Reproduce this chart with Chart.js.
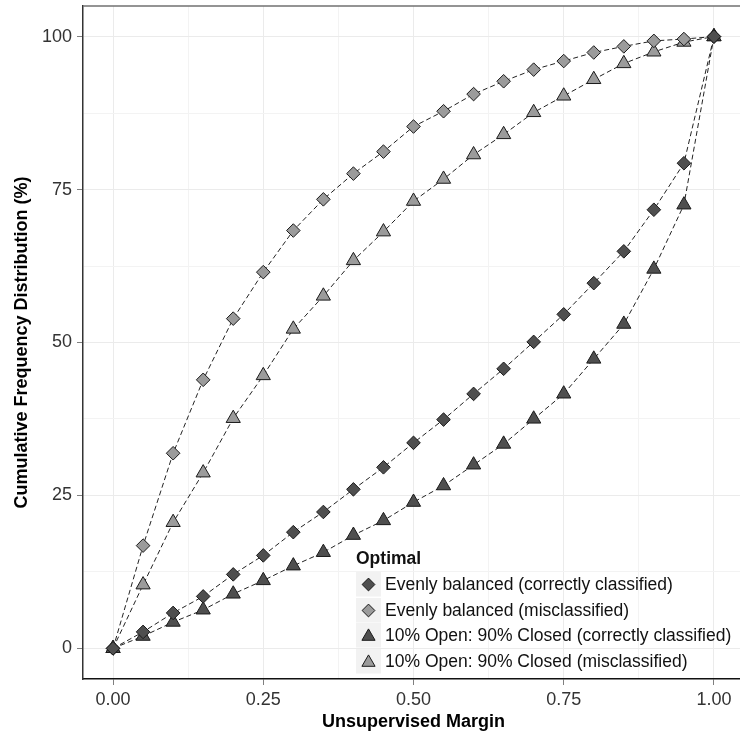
<!DOCTYPE html>
<html>
<head>
<meta charset="utf-8">
<title>Cumulative frequency distribution by unsupervised margin</title>
<script src="https://cdn.jsdelivr.net/npm/chart.js@4.4.1/dist/chart.umd.min.js"></script>
<style>
    html, body { margin: 0; padding: 0; background: #fff; overflow: hidden; }
    #wrap { position: relative; width: 740px; height: 742px; overflow: hidden; }
    #chart { position: absolute; left: 0; top: 0; }
    #legend {
        position: absolute; left: 356px; top: 546px;
        font-family: 'Liberation Sans', Arial, sans-serif; color: #111;
    }
    #legend .title { font-weight: bold; font-size: 17.5px; line-height: 24px; height: 25.7px; }
    #legend .row { display: flex; align-items: center; height: 25.7px; }
    #legend svg { display: block; margin-right: 4px; }
    #legend span { font-size: 17.5px; white-space: nowrap; }
</style>
</head>
<body>
<div id="wrap">
    <canvas id="chart" width="750" height="742"></canvas>
    <div id="legend"></div>
</div>
<script>
// Unsupervised margin (x) and cumulative frequency (%) for each group
const margins = [0, 0.05, 0.10, 0.15, 0.20, 0.25, 0.30, 0.35, 0.40, 0.45, 0.50,
                 0.55, 0.60, 0.65, 0.70, 0.75, 0.80, 0.85, 0.90, 0.95, 1.00];
const evenCorrect = [0, 2.7, 5.8, 8.5, 12.1, 15.2, 19.0, 22.3, 26.0, 29.6, 33.6,
                     37.4, 41.6, 45.7, 50.1, 54.6, 59.7, 64.9, 71.7, 79.3, 100];
const evenMisclassified = [0, 16.8, 31.9, 43.9, 53.9, 61.5, 68.3, 73.4, 77.6, 81.2, 85.3,
                           87.8, 90.6, 92.7, 94.6, 96.0, 97.4, 98.4, 99.3, 99.6, 100];
const openCorrect = [0, 2.0, 4.3, 6.3, 8.9, 11.1, 13.5, 15.7, 18.5, 20.9, 23.9,
                     26.6, 30.0, 33.4, 37.5, 41.6, 47.3, 53.0, 62.0, 72.5, 100];
const openMisclassified = [0, 10.4, 20.6, 28.7, 37.6, 44.6, 52.2, 57.6, 63.4, 68.1, 73.1,
                           76.7, 80.7, 84.0, 87.6, 90.3, 93.0, 95.6, 97.5, 99.1, 100];

const seriesNames = [
    'Evenly balanced (correctly classified)',
    'Evenly balanced (misclassified)',
    '10% Open: 90% Closed (correctly classified)',
    '10% Open: 90% Closed (misclassified)'
];
const seriesValues = [evenCorrect, evenMisclassified, openCorrect, openMisclassified];
const seriesShapes = ['rectRot', 'rectRot', 'triangle', 'triangle'];
const seriesFills = ['#4f4f4f', '#9b9b9b', '#4f4f4f', '#9b9b9b'];

// Axis ticks
const xTickValues = [0, 0.25, 0.5, 0.75, 1];
const xTickLabels = ['0.00', '0.25', '0.50', '0.75', '1.00'];
const xMinorValues = [0.125, 0.375, 0.625, 0.875];
const yTickValues = [0, 25, 50, 75, 100];
const yTickLabels = ['0', '25', '50', '75', '100'];
const yMinorValues = [12.5, 37.5, 62.5, 87.5];

const FONT = "'Liberation Sans', Arial, sans-serif";
Chart.defaults.font.family = FONT;

const markerSize = { rectRot: 6.8, triangle: 8.2 };

function toPoints(values) {
    return margins.map((x, i) => ({ x: x, y: values[i] }));
}

// Dashed lines go underneath, markers on top
const lineSets = seriesValues.map((values, i) => ({
    label: seriesNames[i] + ' line',
    data: toPoints(values),
    showLine: true,
    borderColor: '#222',
    borderWidth: 1,
    borderDash: [5, 3],
    pointRadius: 0,
    order: 2
}));

const pointSets = seriesValues.map((values, i) => ({
    label: seriesNames[i],
    data: toPoints(values),
    showLine: false,
    pointStyle: seriesShapes[i],
    pointRadius: markerSize[seriesShapes[i]],
    backgroundColor: seriesFills[i],
    borderColor: '#1a1a1a',
    borderWidth: 1,
    order: 1
}));

function buildTicks(major, minor) {
    return (axis) => {
        axis.ticks = major.concat(minor).sort((a, b) => a - b).map(v => ({ value: v }));
    };
}

function isMajor(ctx, major) {
    return ctx.tick && major.includes(ctx.tick.value);
}

// Grey top edge of the panel
const panelBorder = {
    id: 'panelBorder',
    afterDraw(chart) {
        const { ctx, chartArea } = chart;
        ctx.save();
        ctx.strokeStyle = '#707070';
        ctx.lineWidth = 1.5;
        ctx.beginPath();
        ctx.moveTo(chartArea.left, chartArea.top);
        ctx.lineTo(chartArea.right, chartArea.top);
        ctx.stroke();
        ctx.restore();
    }
};

new Chart(document.getElementById('chart'), {
    type: 'scatter',
    data: { datasets: lineSets.concat(pointSets) },
    options: {
        responsive: false,
        animation: false,
        layout: { autoPadding: false, padding: { top: 6, right: 6, left: 0, bottom: 0 } },
        plugins: { legend: { display: false }, tooltip: { enabled: false } },
        scales: {
            x: {
                type: 'linear',
                min: -0.05,
                max: 1.05,
                afterBuildTicks: buildTicks(xTickValues, xMinorValues),
                afterFit: (axis) => {
                    axis.height = 63;
                    axis.paddingLeft = 0;
                    axis.paddingRight = 0;
                },
                ticks: {
                    autoSkip: false,
                    maxRotation: 0,
                    padding: 4,
                    color: '#333',
                    font: { size: 18 },
                    callback: (v) => {
                        const i = xTickValues.indexOf(v);
                        return i >= 0 ? xTickLabels[i] : '';
                    }
                },
                grid: {
                    color: (ctx) => isMajor(ctx, xTickValues) ? '#ebebeb' : '#f3f3f3',
                    tickColor: (ctx) => isMajor(ctx, xTickValues) ? '#7f7f7f' : 'rgba(0,0,0,0)',
                    tickLength: 6
                },
                border: { color: '#111', width: 1.5 },
                title: {
                    display: true,
                    text: 'Unsupervised Margin',
                    color: '#000',
                    font: { size: 18, weight: 'bold' },
                    padding: { top: 0, bottom: 9 }
                }
            },
            y: {
                type: 'linear',
                min: -5,
                max: 105,
                afterBuildTicks: buildTicks(yTickValues, yMinorValues),
                afterFit: (axis) => {
                    axis.width = 83;
                    axis.paddingTop = 0;
                    axis.paddingBottom = 0;
                },
                ticks: {
                    autoSkip: false,
                    padding: 5,
                    color: '#333',
                    font: { size: 18 },
                    callback: (v) => {
                        const i = yTickValues.indexOf(v);
                        return i >= 0 ? yTickLabels[i] : '';
                    }
                },
                grid: {
                    color: (ctx) => isMajor(ctx, yTickValues) ? '#ebebeb' : '#f3f3f3',
                    tickColor: (ctx) => isMajor(ctx, yTickValues) ? '#7f7f7f' : 'rgba(0,0,0,0)',
                    tickLength: 6
                },
                border: { color: '#333', width: 1.5 },
                title: {
                    display: true,
                    text: 'Cumulative Frequency Distribution (%)',
                    color: '#000',
                    font: { size: 18, weight: 'bold' },
                    padding: { top: 11, bottom: 0 }
                }
            }
        }
    },
    plugins: [panelBorder]
});

// Legend inside the panel, keys on light grey squares
function keySvg(shape, fill) {
    const c = 12.5;
    let mark;
    if (shape === 'triangle') {
        const r = 7.6;
        const h = r * Math.sqrt(3) / 2;
        mark = `<polygon points="${c},${c - r + 1} ${c + h},${c + r / 2 + 1} ${c - h},${c + r / 2 + 1}"`;
    } else {
        const r = 6.4;
        mark = `<polygon points="${c - r},${c} ${c},${c - r} ${c + r},${c} ${c},${c + r}"`;
    }
    return `<svg width="25" height="25"><rect x="0" y="0" width="25" height="24.5" fill="#f2f2f2"/>` +
        mark + ` fill="${fill}" stroke="#1a1a1a" stroke-width="1"/></svg>`;
}

const legend = document.getElementById('legend');
let html = '<div class="title">Optimal</div>';
seriesNames.forEach((name, i) => {
    html += `<div class="row">${keySvg(seriesShapes[i], seriesFills[i])}<span>${name}</span></div>`;
});
legend.innerHTML = html;
</script>
</body>
</html>
